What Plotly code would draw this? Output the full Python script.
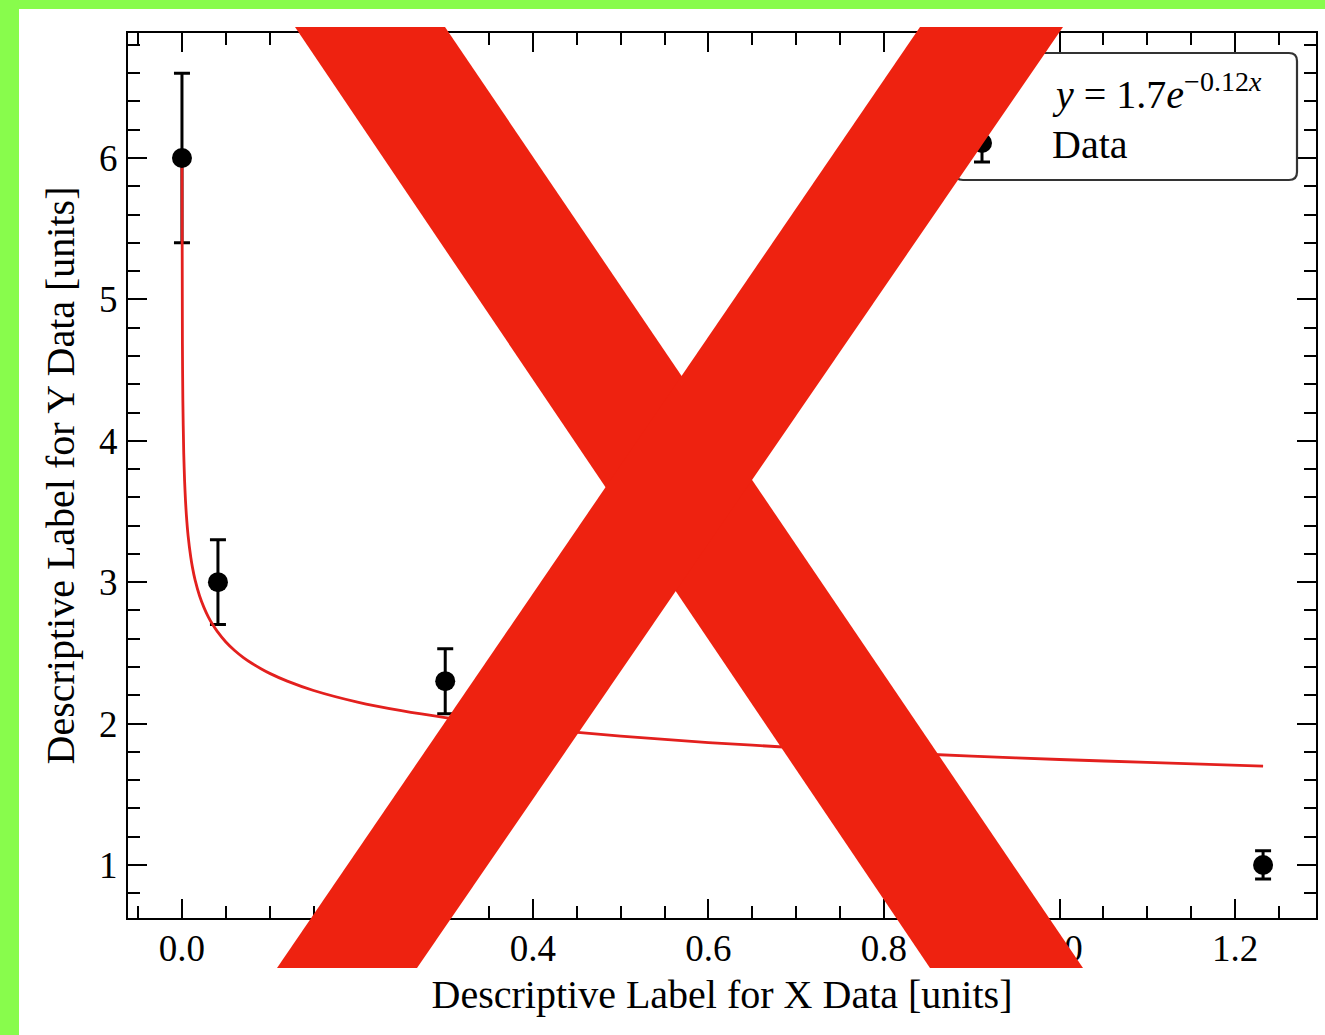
import plotly.graph_objects as go

# ---------------- data ----------------
data_x = [0.0, 0.041, 0.30, 1.232]
data_y = [6.0, 3.0, 2.3, 1.0]
data_err = [0.6, 0.3, 0.23, 0.1]

fit_x = [0.0, 0.0005, 0.001, 0.002, 0.003, 0.004, 0.005, 0.007, 0.01, 0.012,
         0.015, 0.02, 0.025, 0.03, 0.035, 0.04, 0.05, 0.06, 0.07, 0.08, 0.09,
         0.10, 0.12, 0.15, 0.20, 0.25, 0.30, 0.35, 0.40, 0.50, 0.60, 0.70,
         0.80, 0.90, 1.00, 1.10, 1.232]
fit_y = [6.0, 4.690, 4.286, 3.916, 3.715, 3.579, 3.476, 3.328, 3.178, 3.103,
         3.014, 2.904, 2.822, 2.755, 2.700, 2.654, 2.577, 2.517, 2.467, 2.425, 2.388,
         2.355, 2.300, 2.234, 2.152, 2.091, 2.042, 2.001, 1.967, 1.911, 1.866, 1.829,
         1.797, 1.770, 1.746, 1.725, 1.699]

x_ticks = [0.0, 0.2, 0.4, 0.6, 0.8, 1.0, 1.2]
y_ticks = [1, 2, 3, 4, 5, 6]

fit_label = "<i>y</i> = 1.7<i>e</i><sup>\u22120.12<i>x</i></sup>"
data_label = "Data"
x_title = "Descriptive Label for X Data [units]"
y_title = "Descriptive Label for Y Data [units]"

# ---------------- layout geometry ----------------
W, H = 1325, 1035
L, R, T, B = 128, 1316, 33, 918
FONT = "Liberation Serif"
RED = "#E3201E"


def px(x):
    return (x - L) / (R - L)


def py(y):
    return (B - y) / (B - T)


def poly(points):
    return "M " + " L ".join(f"{px(a):.5f},{py(b):.5f}" for a, b in points) + " Z"


fig = go.Figure()

# error bars (below the fit line)
fig.add_trace(go.Scatter(
    x=data_x, y=data_y, mode="markers", name=data_label,
    marker=dict(color="rgba(0,0,0,0)", size=1),
    error_y=dict(type="data", array=data_err, visible=True, color="black",
                 thickness=3, width=8),
    showlegend=False, hoverinfo="skip"))

# fit line
fig.add_trace(go.Scatter(
    x=fit_x, y=fit_y, mode="lines", name=fit_label,
    line=dict(color=RED, width=2.8, shape="spline", smoothing=0.6),
    showlegend=False, hoverinfo="skip"))

# markers on top
fig.add_trace(go.Scatter(
    x=data_x, y=data_y, mode="markers", name=data_label,
    marker=dict(color="black", size=20), showlegend=False))

axis_common = dict(
    showline=True, linecolor="black", linewidth=2, mirror="allticks",
    ticks="inside", ticklen=19, tickwidth=1.8, tickcolor="black",
    showgrid=False, zeroline=False,
    tickfont=dict(family=FONT, size=37, color="black"),
)

fig.update_xaxes(
    range=[-0.0615, 1.2923],
    tickvals=x_ticks, ticktext=[f"{v:.1f}" for v in x_ticks],
    minor=dict(ticks="inside", dtick=0.05, tick0=0, ticklen=12, tickwidth=1.6,
               tickcolor="black", showgrid=False),
    title=dict(text=x_title, font=dict(family=FONT, size=40, color="black"), standoff=12),
    ticklabelstandoff=-3,
    **axis_common)

fig.update_yaxes(
    range=[0.625, 6.884],
    tickvals=y_ticks, ticktext=[str(v) for v in y_ticks],
    minor=dict(ticks="inside", dtick=0.2, tick0=0, ticklen=12, tickwidth=1.6,
               tickcolor="black", showgrid=False),
    title=dict(text=y_title, font=dict(family=FONT, size=40, color="black"), standoff=12),
    ticklabelstandoff=1,
    **axis_common)

# legend (drawn by hand so the overlay can sit above it)
lx0, lx1, ly0, ly1, rad = 955, 1297, 53, 180, 8
legend_path = (
    f"M {px(lx0 + rad)},{py(ly0)} L {px(lx1 - rad)},{py(ly0)} "
    f"Q {px(lx1)},{py(ly0)} {px(lx1)},{py(ly0 + rad)} "
    f"L {px(lx1)},{py(ly1 - rad)} Q {px(lx1)},{py(ly1)} {px(lx1 - rad)},{py(ly1)} "
    f"L {px(lx0 + rad)},{py(ly1)} Q {px(lx0)},{py(ly1)} {px(lx0)},{py(ly1 - rad)} "
    f"L {px(lx0)},{py(ly0 + rad)} Q {px(lx0)},{py(ly0)} {px(lx0 + rad)},{py(ly0)} Z")

shapes = [
    dict(type="path", xref="paper", yref="paper", path=legend_path,
         fillcolor="white", line=dict(color="#333333", width=2.2), layer="above"),
    # legend handle: fit line
    dict(type="line", xref="paper", yref="paper", x0=px(965), x1=px(1000),
         y0=py(90), y1=py(90), line=dict(color=RED, width=2.8), layer="above"),
    # legend handle: data errorbar
    dict(type="line", xref="paper", yref="paper", x0=px(982), x1=px(982),
         y0=py(124), y1=py(162), line=dict(color="black", width=3), layer="above"),
    dict(type="line", xref="paper", yref="paper", x0=px(974), x1=px(990),
         y0=py(162), y1=py(162), line=dict(color="black", width=3), layer="above"),
    dict(type="circle", xref="paper", yref="paper", x0=px(972), x1=px(992),
         y0=py(133), y1=py(153), fillcolor="black", line=dict(width=0), layer="above"),
    # red X overlay
    dict(type="path", xref="paper", yref="paper",
         path=poly([(295, 27), (445, 27), (1083, 968), (930, 968)]),
         fillcolor="#EE2210", line=dict(width=0), layer="above"),
    dict(type="path", xref="paper", yref="paper",
         path=poly([(920, 27), (1063, 27), (417, 968), (277, 968)]),
         fillcolor="#EE2210", line=dict(width=0), layer="above"),
    # green frame
    dict(type="rect", xref="paper", yref="paper", x0=px(-5), x1=px(19),
         y0=py(1040), y1=py(-5), fillcolor="#88FC4C", line=dict(width=0), layer="above"),
    dict(type="rect", xref="paper", yref="paper", x0=px(-5), x1=px(1330),
         y0=py(9), y1=py(-5), fillcolor="#88FC4C", line=dict(width=0), layer="above"),
]

annotations = [
    dict(xref="paper", yref="paper", x=px(1050), y=py(92), xanchor="left", yanchor="middle",
         text=fit_label, showarrow=False, font=dict(family=FONT, size=40, color="black")),
    dict(xref="paper", yref="paper", x=px(1050), y=py(145), xanchor="left", yanchor="middle",
         text=data_label, showarrow=False, font=dict(family=FONT, size=40, color="black")),
]

fig.update_layout(
    width=W, height=H,
    margin=dict(l=L, r=W - R, t=T, b=H - B, pad=0, autoexpand=False),
    paper_bgcolor="white", plot_bgcolor="white",
    showlegend=False, shapes=shapes, annotations=annotations,
)

fig.write_html("out.html", config={"displayModeBar": False},
               post_script="document.body.style.margin='0';")
